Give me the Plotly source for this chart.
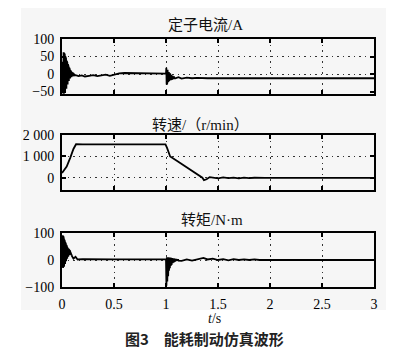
import numpy as np
import plotly.graph_objects as go

# ---------------- data ----------------
x_ticks = [0, 0.5, 1, 1.5, 2, 2.5, 3]
x_ticktext = ["0", "0.5", "1", "1.5", "2", "2.5", "3"]

# stator current (A)
cur_start_vals = [0, 35, -48, 58, -55, 62, -56, 60, -55, 55, -52, 50, -48, 44, -42, 38, -36, 33, -30, 28,
                  -25, 22, -20, 18, -16, 14, -13, 10, -11, 7, -9, 5, -8, 3, -7, 2, -6, 1, -5, 0, -4]
cur_mid_t = [0.13, 0.16, 0.19, 0.22, 0.26, 0.3, 0.34, 0.38, 0.42, 0.46, 0.5, 0.55, 0.6, 0.7, 0.8, 0.9, 0.99]
cur_mid_vals = [-3, -6, -4, -7, -5, -3, -6, -4, -2, -5, -1, 2, 3, 3, 2, 2, 1]
cur_brake_vals = [1, 18, -30, 16, -26, 12, -22, 10, -20, 6, -18, 4, -16, 2, -15, 0, -14, -2, -14, -4,
                  -13, -5, -13, -6, -12, -7, -12]
cur_end_t = [1.09, 1.12, 1.15, 1.2, 1.25, 1.3, 1.4, 1.5, 2.0, 2.5, 3.0]
cur_end_vals = [-12, -9, -13, -10, -12, -11, -12, -12, -12, -12, -12]

# speed (r/min)
spd_t = [0, 0.01, 0.03, 0.045, 0.08, 0.11, 0.135, 0.2, 0.5, 0.8, 0.995, 1.01, 1.025, 1.04, 1.1, 1.2, 1.3,
         1.35, 1.365, 1.39, 1.42, 1.46, 1.5, 1.55, 1.6, 1.65, 1.7, 1.75, 1.8, 1.85, 1.9, 1.95, 2.0, 2.5, 3.0]
spd_vals = [230, 300, 420, 530, 950, 1350, 1570, 1560, 1560, 1560, 1560, 1400, 1150, 1000, 810, 500, 170,
            10, -100, -60, 40, 10, -20, 30, -10, 20, -15, 15, -10, 10, -10, 5, 0, 0, 0]

# torque (N·m)
trq_start_vals = [0, 85, -25, 92, -30, 88, -28, 80, -25, 75, -20, 70, -15, 65, -10, 60, -5, 55, 0, 50,
                  5, 45, 10, 42, 12, 40, 15, 38, 18, 36, 20, 34, 22, 30, 20, 25, 18, 20, 15, 12, 8]
trq_mid_t = [0.11, 0.13, 0.15, 0.2, 0.3, 0.5, 0.7, 0.9, 0.995]
trq_mid_vals = [5, 12, 2, 3, 2, 2, 2, 2, 2]
trq_brake_vals = [2, -95, 10, -80, 8, -60, 10, -40, 8, -30, 9, -22, 8, -18, 7, -12, 6, -10, 6, -8,
                  5, -6, 4, -4, 4, -3, 3, -2, 3, -2]
trq_end_t = [1.15, 1.2, 1.25, 1.3, 1.33, 1.36, 1.4, 1.45, 1.5, 1.55, 1.6, 1.65, 1.7, 1.75, 1.8, 1.85,
             1.9, 1.95, 2.0, 2.5, 3.0]
trq_end_vals = [-3, 2, -2, 3, 6, 8, 2, 5, 0, 3, -1, 3, 0, 2, 0, 2, 0, 1, 0, 0, 0]

titles = ["定子电流/A", "转速/（r/min）", "转矩/N·m"]
xlabel = "<i>t</i>/s"
caption = "图3　能耗制动仿真波形"

# ---------------- assemble series ----------------
cur_t = (list(np.linspace(0, 0.12, len(cur_start_vals))) + cur_mid_t +
         list(np.linspace(1.0, 1.08, len(cur_brake_vals))) + cur_end_t)
cur_v = cur_start_vals + cur_mid_vals + cur_brake_vals + cur_end_vals
trq_t = (list(np.linspace(0, 0.1, len(trq_start_vals))) + trq_mid_t +
         list(np.linspace(1.0, 1.12, len(trq_brake_vals))) + trq_end_t)
trq_v = trq_start_vals + trq_mid_vals + trq_brake_vals + trq_end_vals

# the page body has an 8px margin, so the figure is drawn 8px in from the window's corner
OFF = 8
W, H = 405 - OFF, 362 - OFF
def px(v):
    return (v - OFF) / W
def py(v):
    return 1 - (v - OFF) / H

serif = "Liberation Serif, Times New Roman, Noto Sans CJK SC"
line = dict(color="black", width=1.8)

fig = go.Figure()
fig.add_trace(go.Scatter(x=cur_t, y=cur_v, mode="lines", line=line, xaxis="x", yaxis="y", showlegend=False))
fig.add_trace(go.Scatter(x=spd_t, y=spd_vals, mode="lines", line=line, xaxis="x2", yaxis="y2", showlegend=False))
fig.add_trace(go.Scatter(x=trq_t, y=trq_v, mode="lines", line=line, xaxis="x3", yaxis="y3", showlegend=False))

xdom = [px(62), px(374)]
ydoms = [[py(94), py(39)], [py(190), py(135)], [py(287), py(233)]]

common_axis = dict(showline=True, linewidth=2, linecolor="black", mirror="ticks",
                   ticks="inside", ticklen=4, tickwidth=2, tickcolor="black", automargin=False,
                   zeroline=False, tickfont=dict(family=serif, size=14, color="black"))
grid = dict(showgrid=True, gridcolor="#333", gridwidth=1.3, griddash="1.5px,4px")

layout = dict(width=W, height=H, margin=dict(l=0, r=0, t=0, b=0, pad=0, autoexpand=False),
              paper_bgcolor="white", plot_bgcolor="white", showlegend=False)

for i, (xn, yn) in enumerate([("xaxis", "yaxis"), ("xaxis2", "yaxis2"), ("xaxis3", "yaxis3")]):
    layout[xn] = dict(domain=xdom, range=[0, 3], tickvals=x_ticks, ticktext=x_ticktext,
                      showticklabels=(i == 2), anchor="y" if i == 0 else f"y{i+1}",
                      ticklabelstandoff=3, **common_axis, **grid)

layout["yaxis"] = dict(domain=ydoms[0], range=[-57, 100], tickvals=[-50, 0, 50, 100],
                       ticktext=["\u221250", "0", "50", "100"], anchor="x", showgrid=False,
                       ticklabelstandoff=3, **common_axis)
layout["yaxis4"] = dict(overlaying="y", range=[-57, 100], tickvals=[0, 50], showticklabels=False,
                        ticks="", showline=False, zeroline=False, anchor="x", automargin=False, **grid)
layout["yaxis2"] = dict(domain=ydoms[1], range=[-560, 2000], tickvals=[0, 1000, 2000],
                        ticktext=["0", "1 000", "2 000"], anchor="x2",
                        ticklabelstandoff=3, **common_axis, **grid)
layout["yaxis3"] = dict(domain=ydoms[2], range=[-100, 100], tickvals=[-100, 0, 100],
                        ticktext=["\u2212100", "0", "100"], anchor="x3",
                        ticklabelstandoff=3, **common_axis, **grid)

fig.update_layout(**layout)
# dummy trace on overlay axis so its grid shows
fig.add_trace(go.Scatter(x=[None], y=[None], xaxis="x", yaxis="y4", showlegend=False, hoverinfo="skip"))

# light grey figure panel behind charts
fig.add_shape(type="rect", xref="paper", yref="paper", x0=px(21), x1=px(386), y0=py(310), y1=1,
              fillcolor="#f6f6f6", line=dict(width=0), layer="below")

title_pos = [(205, 25), (200, 125), (212, 220)]
for t, (cx, cy) in zip(titles, title_pos):
    fig.add_annotation(text=t, x=px(cx), y=py(cy), xref="paper", yref="paper", showarrow=False,
                       xanchor="center", yanchor="middle", font=dict(family=serif, size=15, color="#111"))
fig.add_annotation(text=xlabel, x=px(214), y=py(318), xref="paper", yref="paper", showarrow=False,
                   xanchor="center", yanchor="middle", borderpad=0,
                   font=dict(family=serif, size=14, color="#111"))
fig.add_annotation(text="<b>" + caption + "</b>", x=px(204), y=py(338), xref="paper", yref="paper",
                   showarrow=False, xanchor="center", yanchor="middle", borderpad=0,
                   font=dict(family="Noto Sans CJK SC", size=15, color="#222"))

fig.write_html("out.html")
